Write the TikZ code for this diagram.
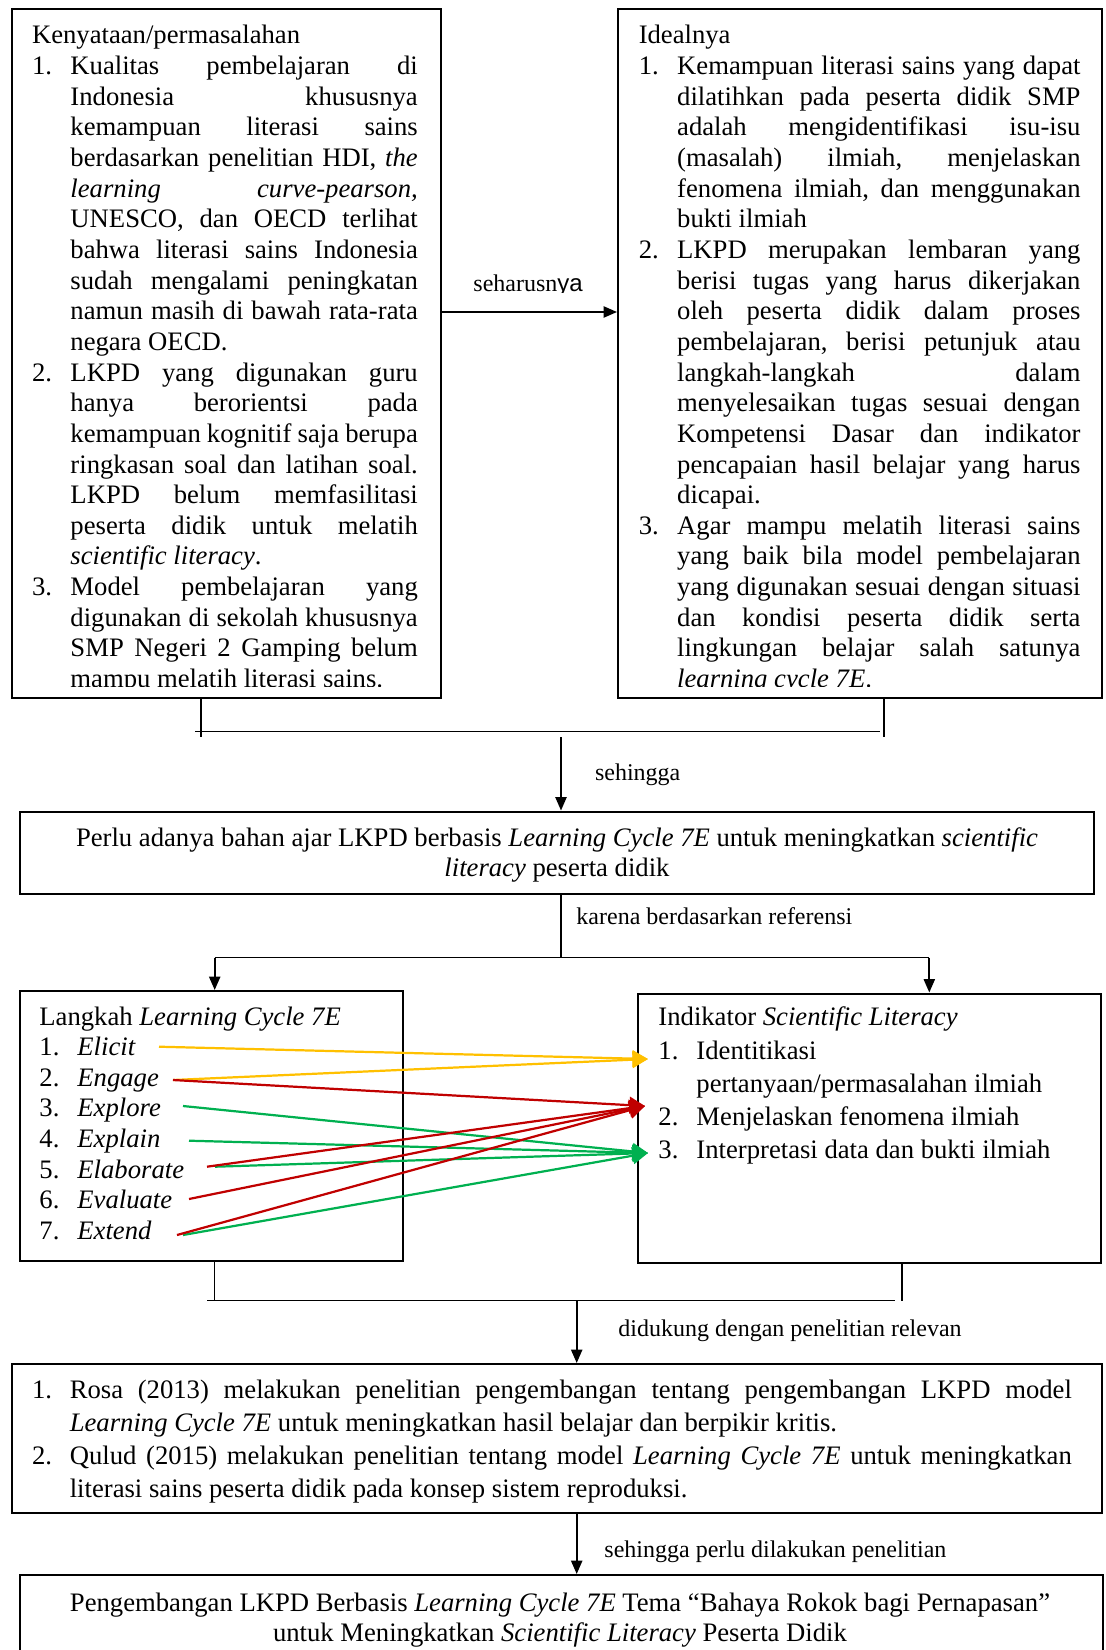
\documentclass[tikz,border=0pt]{standalone}
\usepackage{fontspec}
\setmainfont{Liberation Serif}
\setsansfont{Liberation Sans}
\usetikzlibrary{arrows.meta}
\newlength\hg
\newcommand\lnT[1]{\hbox{#1}}
\newcommand\lnJ[1]{\hbox to\hsize{\hskip\hg #1}}
\newcommand\lnE[1]{\hbox{\hskip\hg #1}}
\newcommand\lnJN[2]{\hbox to\hsize{\hbox to\hg{#1\hfil}#2}}
\newcommand\lnEN[2]{\hbox{\hbox to\hg{#1\hfil}#2}}
\newcommand\lnC[1]{\hbox to\hsize{\hfil #1\hfil}}
\newcommand\blk[4]{\vtop{\hsize=#1\relax\hg=#2\relax\baselineskip=#3\relax\lineskiplimit=-\maxdimen\frenchspacing #4}}
\newcommand\mkbox[5]{\node[bx, anchor=north west, minimum width={(#4-(#2))*0.45pt}, minimum height={(#5-(#3))*0.45pt}] (#1) at (#2,#3) {};}
\tikzset{
  bx/.style={draw, line width=1.1pt, inner sep=0pt},
  tx/.style={inner sep=0pt, anchor=base west, font=\fontsize{12pt}{13.8pt}\selectfont},
  lb/.style={inner sep=0pt, anchor=base west, font=\fontsize{10.8pt}{13pt}\selectfont},
  arr/.style={line width=0.8pt, -{Triangle[length=6pt,width=5pt]}},
  thinl/.style={line width=0.5pt},
  carr/.style={line width=1pt, -{Triangle[length=7pt,width=7.5pt]}},
}
\definecolor{cy}{HTML}{FFC000}
\definecolor{cr}{HTML}{C00000}
\definecolor{cg}{HTML}{00B050}
\begin{document}
\begin{tikzpicture}[x=0.45pt,y=-0.45pt]
\useasboundingbox (0,0) rectangle (1105,1650);
\clip (0,0) rectangle (1105,1650);
% ---------- boxes
\mkbox{kb}{10.5}{8}{440}{697}
\mkbox{ib}{617}{8}{1101}{697}
\mkbox{b2}{19}{810.5}{1093}{892.5}
\mkbox{lb3}{19}{990}{402}{1260}
\mkbox{rb3}{637}{992.5}{1100}{1262}
\mkbox{b4}{10.5}{1363}{1101}{1512}
\mkbox{b5}{19}{1574}{1102}{1720}
% ---------- top texts (clipped at bottom like the reference)
\begin{scope}
\clip (0,0) rectangle (1105,686);
\node[tx] (kt) at (31.6,44) {\blk{173.6pt}{17.3pt}{13.79pt}{%
\lnT{Kenyataan/permasalahan}
\lnJN{1.}{Kualitas pembelajaran di}
\lnJ{Indonesia khususnya}
\lnJ{kemampuan literasi sains}
\lnJ{berdasarkan penelitian HDI, \textit{the}}
\lnJ{\textit{learning curve-pearson,}}
\lnJ{UNESCO, dan OECD terlihat}
\lnJ{bahwa literasi sains Indonesia}
\lnJ{sudah mengalami peningkatan}
\lnJ{namun masih di bawah rata-rata}
\lnE{negara OECD.}
\lnJN{2.}{LKPD yang digunakan guru}
\lnJ{hanya berorientsi pada}
\lnJ{kemampuan kognitif saja berupa}
\lnJ{ringkasan soal dan latihan soal.}
\lnJ{LKPD belum memfasilitasi}
\lnJ{peserta didik untuk melatih}
\lnE{\textit{scientific literacy}.}
\lnJN{3.}{Model pembelajaran yang}
\lnJ{digunakan di sekolah khususnya}
\lnJ{SMP Negeri 2 Gamping belum}
\lnE{mampu melatih literasi sains.}}};
\node[tx] (it) at (638.3,44) {\blk{198.8pt}{17.3pt}{13.79pt}{%
\lnT{Idealnya}
\lnJN{1.}{Kemampuan literasi sains yang dapat}
\lnJ{dilatihkan pada peserta didik SMP}
\lnJ{adalah mengidentifikasi isu-isu}
\lnJ{(masalah) ilmiah, menjelaskan}
\lnJ{fenomena ilmiah, dan menggunakan}
\lnE{bukti ilmiah}
\lnJN{2.}{LKPD merupakan lembaran yang}
\lnJ{berisi tugas yang harus dikerjakan}
\lnJ{oleh peserta didik dalam proses}
\lnJ{pembelajaran, berisi petunjuk atau}
\lnJ{langkah-langkah dalam}
\lnJ{menyelesaikan tugas sesuai dengan}
\lnJ{Kompetensi Dasar dan indikator}
\lnJ{pencapaian hasil belajar yang harus}
\lnE{dicapai.}
\lnJN{3.}{Agar mampu melatih literasi sains}
\lnJ{yang baik bila model pembelajaran}
\lnJ{yang digunakan sesuai dengan situasi}
\lnJ{dan kondisi peserta didik serta}
\lnJ{lingkungan belajar salah satunya}
\lnE{\textit{learning cycle 7E}.}}};
\end{scope}
% ---------- seharusnya
\coordinate (sy) at (0,312);
\draw[arr] (kb.east |- sy) -- (ib.west |- sy);
\begin{scope}
\clip (445,255) rectangle (612,292.5);
\node[lb] (lsh) at (473,291.7) {seharusn{\sffamily ya}};
\end{scope}
% ---------- join of top boxes
\coordinate (t1) at (201,737);
\coordinate (t2) at (884,737);
\coordinate (h1) at (195,731.5);
\coordinate (h2) at (880,731.5);
\draw[thinl] (kb.south -| t1) -- (t1);
\draw[thinl] (ib.south -| t2) -- (t2);
\draw[thinl] (h1) -- (h2);
\coordinate (a1) at (561,737);
\draw[arr] (a1) -- (b2.north -| a1);
\node[lb] (lseh) at (594.6,780) {sehingga};
% ---------- box 2 text
\node[tx, anchor=base] (b2t) at (557,846.7) {\blk{500pt}{0pt}{13.5pt}{%
\lnC{Perlu adanya bahan ajar LKPD berbasis \textit{Learning Cycle 7E} untuk meningkatkan \textit{scientific}}
\lnC{\textit{literacy} peserta didik}}};
% ---------- karena berdasarkan referensi
\coordinate (k1) at (561,957.7);
\coordinate (kl) at (214.7,957.7);
\coordinate (kr) at (929.3,957.7);
\draw[thinl] (b2.south -| k1) -- (k1);
\draw[thinl] (kl) -- (kr);
\draw[arr] (kl) -- (lb3.north -| kl);
\draw[arr] (kr) -- (rb3.north -| kr);
\node[lb] (lkar) at (576,924) {karena berdasarkan referensi};
% ---------- left box 3
\node[tx] (lt) at (39,1025) {Langkah \textit{Learning Cycle 7E}};
\node[tx] (e1) at (39,1055.6) {\makebox[17.1pt][l]{1.}\textit{Elicit}};
\node[tx] (e2) at (39,1086.2) {\makebox[17.1pt][l]{2.}\textit{Engage}};
\node[tx] (e3) at (39,1116.8) {\makebox[17.1pt][l]{3.}\textit{Explore}};
\node[tx] (e4) at (39,1147.4) {\makebox[17.1pt][l]{4.}\textit{Explain}};
\node[tx] (e5) at (39,1178) {\makebox[17.1pt][l]{5.}\textit{Elaborate}};
\node[tx] (e6) at (39,1208.6) {\makebox[17.1pt][l]{6.}\textit{Evaluate}};
\node[tx] (e7) at (39,1239.2) {\makebox[17.1pt][l]{7.}\textit{Extend}};
% ---------- right box 3
\node[tx] (st) at (658,1025) {Indikator \textit{Scientific Literacy}};
\node[tx] (s1) at (658,1059.5) {\makebox[17.1pt][l]{1.}Identitikasi};
\node[tx] (s1b) at (696,1092.5) {pertanyaan/permasalahan ilmiah};
\node[tx] (s2) at (658,1125.5) {\makebox[17.1pt][l]{2.}Menjelaskan fenomena ilmiah};
\node[tx] (s3) at (658,1158.5) {\makebox[17.1pt][l]{3.}Interpretasi data dan bukti ilmiah};
% ---------- coloured connectors
\coordinate (yt) at (648,1059);
\coordinate (rt) at (645,1106);
\coordinate (gt) at (648,1153);
\coordinate (ys1) at (159,1046.7);
\coordinate (ys2) at (173,1080);
\coordinate (rs1) at (173,1080);
\coordinate (rs2) at (207,1166.7);
\coordinate (rs3) at (189,1199);
\coordinate (rs4) at (177,1235);
\coordinate (gs1) at (183,1106);
\coordinate (gs2) at (189,1140.7);
\coordinate (gs3) at (215,1166.7);
\coordinate (gs4) at (183,1235);
\draw[carr, cy] (ys1) -- (yt);
\draw[carr, cy] (ys2) -- (yt);
\draw[carr, cg] (gs1) -- (gt);
\draw[carr, cg] (gs2) -- (gt);
\draw[carr, cg] (gs3) -- (gt);
\draw[carr, cg] (gs4) -- (gt);
\draw[carr, cr] (rs1) -- (rt);
\draw[carr, cr] (rs2) -- (rt);
\draw[carr, cr] (rs3) -- (rt);
\draw[carr, cr] (rs4) -- (rt);
% ---------- join of box 3
\coordinate (tl) at (214.7,1300.7);
\coordinate (tr) at (902,1300.7);
\coordinate (hl) at (207,1300.7);
\coordinate (hr) at (894.5,1300.7);
\draw[thinl] (lb3.south -| tl) -- (tl);
\draw[thinl] (rb3.south -| tr) -- (tr);
\draw[thinl] (hl) -- (hr);
\coordinate (d1) at (576.7,1300.7);
\draw[arr] (d1) -- (b4.north -| d1);
\node[lb] (ldid) at (618,1336) {didukung dengan penelitian relevan};
% ---------- box 4 text
\node[tx] (b4t) at (31.6,1398.5) {\blk{467.9pt}{17pt}{14.85pt}{%
\lnJN{1.}{Rosa (2013) melakukan penelitian pengembangan tentang pengembangan LKPD model}
\lnE{\textit{Learning Cycle 7E} untuk meningkatkan hasil belajar dan berpikir kritis.}
\lnJN{2.}{Qulud (2015) melakukan penelitian tentang model \textit{Learning Cycle 7E} untuk meningkatkan}
\lnE{literasi sains peserta didik pada konsep sistem reproduksi.}}};
% ---------- final arrow
\draw[arr] (b4.south -| d1) -- (b5.north -| d1);
\node[lb] (lper) at (604,1557.5) {sehingga perlu dilakukan penelitian};
% ---------- box 5 text
\node[tx, anchor=base] (b5t) at (560,1611.7) {\blk{500pt}{0pt}{13.4pt}{%
\lnC{Pengembangan LKPD Berbasis \textit{Learning Cycle 7E} Tema “Bahaya Rokok bagi Pernapasan”}
\lnC{untuk Meningkatkan \textit{Scientific Literacy} Peserta Didik}}};
\end{tikzpicture}
\end{document}
